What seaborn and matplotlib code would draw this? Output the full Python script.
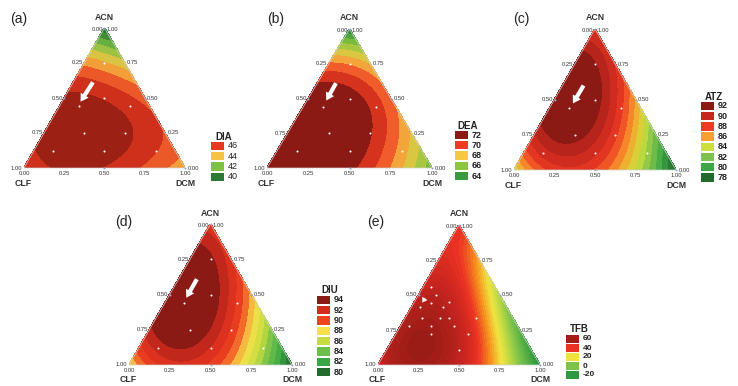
import numpy as np
import matplotlib
matplotlib.use("Agg")
import matplotlib.pyplot as plt
import matplotlib.tri as mtri
from matplotlib.colors import Normalize
from matplotlib.patches import Rectangle, FancyArrowPatch, Polygon
import seaborn as sns

sns.set_style("white")
plt.rcParams["font.family"] = ["Liberation Sans", "DejaVu Sans"]

W, H = 738, 386
S = np.sqrt(3) / 2

# ---------------- data ----------------
# {3,3} simplex-lattice reference points (ACN, CLF, DCM) at which the fitted surface is read
lat_acn = [1, 0, 0, 2/3, 1/3, 2/3, 1/3, 0, 0, 1/3]
lat_clf = [0, 1, 0, 1/3, 2/3, 0, 0, 2/3, 1/3, 1/3]
lat_dcm = [0, 0, 1, 0, 0, 1/3, 2/3, 1/3, 2/3, 1/3]

# response at those reference points
dia_vals = [39.0, 46.0, 44.3, 45.8, 47.6, 44.2, 46.0, 47.2, 46.2, 47.6]
dea_vals = [62.8, 72.0, 65.3, 70.3, 72.4, 68.6, 68.4, 72.2, 69.8, 72.1]
atz_vals = [88.5, 84.0, 77.5, 92.4, 91.0, 88.0, 82.8, 88.6, 85.4, 90.9]
diu_vals = [91.2, 87.6, 79.6, 94.4, 93.6, 90.6, 85.8, 91.6, 88.0, 93.3]
tfb_vals = [42.0, 49.0, -25.0, 47.0, 56.0, 20.0, -5.0, 60.0, 33.0, 50.0]

# experimental design points (white dots): ACN and DCM fractions (CLF = 1 - ACN - DCM)
design_acn = [0.75, 0.50, 0.44, 0.44, 0.25, 0.25, 0.12, 0.12, 0.12]
design_dcm = [0.125, 0.25, 0.12, 0.44, 0.25, 0.50, 0.12, 0.44, 0.76]
tfb_design_acn = [0.555, 0.50, 0.445, 0.417, 0.417, 0.448, 0.333, 0.333, 0.333, 0.333,
                  0.279, 0.279, 0.279, 0.219, 0.219, 0.107]
tfb_design_dcm = [0.048, 0.111, 0.107, 0.049, 0.193, 0.215, 0.105, 0.219, 0.272, 0.441,
                  0.050, 0.190, 0.328, 0.220, 0.443, 0.445]

# legend entries
dia_leg = [46, 44, 42, 40]
dea_leg = [72, 70, 68, 66, 64]
atz_leg = [92, 90, 88, 86, 84, 82, 80, 78]
diu_leg = [94, 92, 90, 88, 86, 84, 82, 80]
tfb_leg = [60, 40, 20, 0, -20]

tick_labels = ["0.00", "0.25", "0.50", "0.75", "1.00"]
tick_vals = [0.0, 0.25, 0.5, 0.75, 1.0]

# colour anchors per panel (evenly spaced over the value range)
dia_anchor_c = ["#2b7a33", "#7dc143", "#f6c343", "#e8381f", "#861812"]
dea_anchor_c = ["#226b2c", "#3a9a3f", "#8cc63f", "#f5c842", "#ef3b23", "#8b1a15"]
atz_anchor_c = ["#236b2c", "#3aa745", "#7fc24b", "#cfdf3a", "#f7a12d", "#ee3b23", "#c5281e", "#8b1a15"]
diu_anchor_c = ["#236b2c", "#3aa745", "#6cbf4a", "#c9dc40", "#f7e14a", "#f0431f", "#d52b1e", "#8b1a15"]
tfb_anchor_c = ["#1e6e2a", "#2e9a3f", "#55ad45", "#7dc24a", "#b8d843", "#f0e442",
                "#f7941d", "#ec3323", "#c92520", "#a51e18", "#861812"]

panels = [
    dict(tag="(a)", tagxy=(10, 19), name="DIA", vals=dia_vals, tri=(24, 185, 28, 168),
         leg=dia_leg, vr=(40, 48), ac=dia_anchor_c, levels=np.arange(37, 49, 1.0),
         legx=211, legy0=146, legstep=10.3, titley=137, bold=False,
         dacn=design_acn, ddcm=design_dcm,
         arrow=((0.437, 0.629), (0.342, 0.457)), ams=5.0),
    dict(tag="(b)", tagxy=(267, 19), name="DEA", vals=dea_vals, tri=(267, 432, 29, 168),
         leg=dea_leg, vr=(62, 72), ac=dea_anchor_c, levels=np.arange(60, 72, 1.0),
         legx=455, legy0=135, legstep=10.3, titley=126, bold=True,
         dacn=design_acn, ddcm=design_dcm,
         arrow=((0.426, 0.628), (0.351, 0.468)), ams=5.0),
    dict(tag="(c)", tagxy=(513, 19), name="ATZ", vals=atz_vals, tri=(514, 676, 29, 170),
         leg=atz_leg, vr=(78, 92), ac=atz_anchor_c, levels=np.arange(76, 92, 1.0),
         legx=701, legy0=106, legstep=10.2, titley=97, bold=True,
         dacn=design_acn, ddcm=design_dcm,
         arrow=((0.438, 0.616), (0.355, 0.455)), ams=5.0),
    dict(tag="(d)", tagxy=(115, 222), name="DIU", vals=diu_vals, tri=(129, 292, 224, 365),
         leg=diu_leg, vr=(80, 94), ac=diu_anchor_c, levels=np.arange(78, 94, 1.0),
         legx=317, legy0=300, legstep=10.3, titley=290, bold=True,
         dacn=design_acn, ddcm=design_dcm,
         arrow=((0.425, 0.626), (0.343, 0.46)), ams=5.0),
    dict(tag="(e)", tagxy=(367, 222), name="TFB", vals=tfb_vals, tri=(378, 540, 225, 365),
         leg=tfb_leg, vr=(-30, 70), ac=tfb_anchor_c, levels=np.arange(-40, 72, 2.0),
         legx=566, legy0=339, legstep=9.0, titley=329, bold=True,
         dacn=tfb_design_acn, ddcm=tfb_design_dcm,
         arrow=((0.299, 0.493), (0.264, 0.429)), ams=3.2),
]


def basis(a, c, d):
    a, c, d = np.asarray(a, float), np.asarray(c, float), np.asarray(d, float)
    return np.column_stack([a, c, d, a * c, a * d, c * d,
                            a * c * (a - c), a * d * (a - d), c * d * (c - d), a * c * d])


B_lat = basis(lat_acn, lat_clf, lat_dcm)

N = 90
ga, gd = [], []
for i in range(N + 1):
    for j in range(N + 1 - i):
        ga.append(i / N)
        gd.append(j / N)
ga = np.array(ga)
gd = np.array(gd)
gc = np.clip(1 - ga - gd, 0, 1)
gx = gd + ga / 2
gy = ga * S
triang = mtri.Triangulation(gx, gy)
B_grid = basis(ga, gc, gd)

fig = plt.figure(figsize=(W / 100, H / 100), dpi=100)


def fxy(x, y):
    return x / W, 1 - y / H


for p in panels:
    L, R, T, Bt = p["tri"]
    ax = fig.add_axes([L / W, 1 - Bt / H, (R - L) / W, (Bt - T) / H])
    ax.set_xlim(0, 1)
    ax.set_ylim(0, S)
    ax.axis("off")

    coef = np.linalg.solve(B_lat, np.array(p["vals"], float))
    z = B_grid @ coef

    cmap = sns.blend_palette(p["ac"], n_colors=256, as_cmap=True)
    norm = Normalize(vmin=p["vr"][0], vmax=p["vr"][1])
    cs = ax.tricontourf(triang, z, levels=p["levels"], cmap=cmap, norm=norm, extend="both")
    cs.set_edgecolor("face")
    cs.set_linewidth(0.6)
    ax.add_patch(Polygon([[0, 0], [1, 0], [0.5, S]], closed=True, fill=False,
                         edgecolor="#d0d0d0", lw=0.5, clip_on=False))

    # design points
    dacn = np.array(p["dacn"])
    ddcm = np.array(p["ddcm"])
    ax.scatter(ddcm + dacn / 2, dacn * S, s=2.2, color="white", linewidths=0, zorder=5)

    # arrow
    (tx, ty), (hx, hy) = p["arrow"]
    arr = FancyArrowPatch((tx, ty * S), (hx, hy * S),
                          arrowstyle="simple,head_length=1.1,head_width=1.35,tail_width=0.6",
                          mutation_scale=p["ams"], color="white", lw=0, zorder=6)
    ax.add_patch(arr)

    # edge tick markers
    ax.scatter([0.25, 0.75, 0.5, 0.5, 1.0], [0.5 * S, 0.5 * S, 0, S, 0], s=2,
               color="#8ea3d6", linewidths=0, zorder=4, clip_on=False)

    tk = dict(fontsize=4.2, color="#333333", textcoords="offset points",
              annotation_clip=False)
    pt = 0.72
    # left edge: CLF fraction (0 at top)
    for v, lab in zip(tick_vals[1:], tick_labels[1:]):
        a = 1 - v
        ax.annotate(lab, (a / 2, a * S), xytext=(-1.5 * pt, 0), ha="right", va="center", **tk)
    # right edge: ACN fraction
    for v, lab in zip(tick_vals[:-1], tick_labels[:-1]):
        ax.annotate(lab, (1 - v / 2, v * S), xytext=(2.5 * pt, 0), ha="left", va="center", **tk)
    # bottom: DCM fraction
    for v, lab in zip(tick_vals, tick_labels):
        ax.annotate(lab, (v, 0), xytext=(0, -3 * pt), ha="center", va="top", **tk)
    # top vertex
    ax.annotate("0.00", (0.5, S), xytext=(-1.5 * pt, -1.5 * pt), ha="right", va="center", **tk)
    ax.annotate("1.00", (0.5, S), xytext=(2.5 * pt, -1.5 * pt), ha="left", va="center", **tk)

    vl = dict(fontsize=6.3, fontweight="bold", color="#333333", textcoords="offset points",
              annotation_clip=False, ha="center", va="center")
    ax.annotate("ACN", (0.5, S), xytext=(0, 11 * pt), **vl)
    ax.annotate("CLF", (0, 0), xytext=(-1 * pt, -15 * pt), **vl)
    ax.annotate("DCM", (1, 0), xytext=(0, -15 * pt), **vl)

    # panel tag
    x, y = fxy(*p["tagxy"])
    fig.text(x, y, p["tag"], fontsize=10, color="#222222", ha="left", va="center")

    # legend
    bw = 13
    bh = 8.3 if p["name"] != "TFB" else 7.2
    lx = p["legx"]
    tx_, ty_ = fxy(lx + 13, p["titley"])
    fig.text(tx_, ty_, p["name"], fontsize=7, fontweight="bold", color="#222222",
             ha="center", va="center")
    for k, v in enumerate(p["leg"]):
        yc = p["legy0"] + k * p["legstep"]
        x0, y0 = fxy(lx, yc + bh / 2)
        fig.patches.append(Rectangle((x0, y0), bw / W, bh / H, transform=fig.transFigure,
                                     facecolor=cmap(norm(v)), edgecolor="none"))
        x1, y1 = fxy(lx + bw + 3.5, yc)
        fig.text(x1, y1, str(v), fontsize=6.5 if p["name"] != "TFB" else 6,
                 fontweight="bold" if p["bold"] else "normal",
                 color="#222222", ha="left", va="center")

fig.savefig("out.png", dpi=100)
